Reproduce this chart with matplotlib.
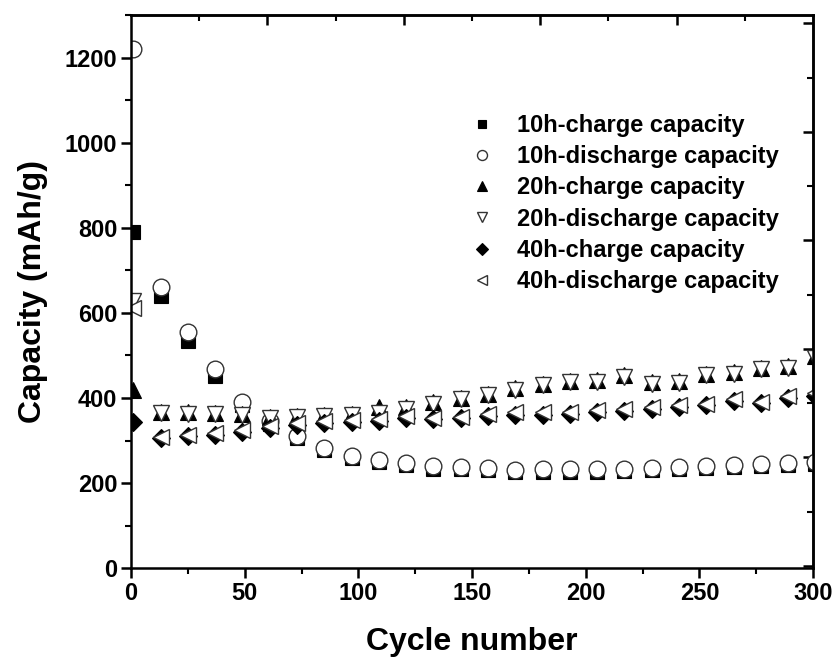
import numpy as np
import matplotlib.pyplot as plt
from matplotlib.ticker import MultipleLocator

plt.rcParams['font.family'] = ['Liberation Sans', 'DejaVu Sans']
plt.rcParams['font.weight'] = 'bold'

# cycle numbers where points are plotted (every 12 cycles)
ciclos = [1, 13, 25, 37, 49, 61, 73, 85, 97, 109, 121, 133, 145, 157, 169,
          181, 193, 205, 217, 229, 241, 253, 265, 277, 289, 301]

carga_10h = [790, 640, 535, 452, 383, 340, 306, 278, 258, 250, 242, 234, 232,
             231, 226, 226, 227, 227, 229, 230, 233, 235, 237, 239, 242, 245]
descarga_10h = [1221, 660, 555, 468, 390, 345, 310, 283, 263, 255, 247, 240, 237,
                236, 231, 232, 233, 233, 234, 235, 238, 240, 242, 244, 247, 250]
carga_20h = [418, 368, 366, 365, 362, 356, 358, 360, 363, 378, 380, 390, 400,
             410, 423, 433, 440, 443, 453, 438, 440, 456, 460, 471, 475, 498]
descarga_20h = [628, 365, 363, 362, 360, 352, 355, 357, 360, 365, 375, 385, 397,
                406, 418, 430, 437, 438, 449, 434, 436, 453, 456, 469, 471, 495]
carga_40h = [344, 306, 310, 314, 320, 330, 337, 341, 344, 347, 352, 350, 353,
             358, 360, 361, 362, 366, 370, 373, 378, 383, 392, 388, 400, 405]
descarga_40h = [612, 309, 313, 317, 324, 334, 341, 345, 348, 350, 357, 352, 356,
                362, 366, 366, 366, 371, 375, 378, 383, 387, 397, 391, 405, 412]

etiquetas = ["10h-charge capacity", "10h-discharge capacity",
             "20h-charge capacity", "20h-discharge capacity",
             "40h-charge capacity", "40h-discharge capacity"]

fig = plt.figure(figsize=(8.4, 6.66), dpi=100)
ax = fig.add_axes([0.156, 0.147, 0.812, 0.830])

ms = 12
ax.plot(ciclos, carga_10h, 's', ms=ms * 0.85, color='black', mec='black', mew=0.8,
        label=etiquetas[0])
ax.plot(ciclos, descarga_10h, 'o', ms=ms, mfc='white', mec='#333333', mew=1.0,
        label=etiquetas[1])
ax.plot(ciclos, carga_20h, '^', ms=ms, color='black', mec='black', mew=0.8,
        label=etiquetas[2])
ax.plot(ciclos, descarga_20h, 'v', ms=ms, mfc='white', mec='#333333', mew=1.0,
        label=etiquetas[3])
ax.plot(ciclos, carga_40h, 'D', ms=ms * 0.8, color='black', mec='black', mew=0.8,
        label=etiquetas[4])
ax.plot(ciclos, descarga_40h, '<', ms=ms, mfc='white', mec='#333333', mew=1.0,
        label=etiquetas[5])

ax.set_xlim(0, 300)
ax.xaxis.set_major_locator(MultipleLocator(50))
ax.xaxis.set_minor_locator(MultipleLocator(25))
ax.set_yticks(np.arange(0, 1201, 200))
ax.yaxis.set_minor_locator(MultipleLocator(100))
ax.set_ylim(0, 1300)

for s in ax.spines.values():
    s.set_linewidth(1.8)
ax.tick_params(which='major', direction='out', length=7, width=1.8,
               labelsize=17, pad=3)
ax.tick_params(which='minor', direction='out', length=4, width=1.5)
for lab in ax.get_xticklabels() + ax.get_yticklabels():
    lab.set_fontweight('bold')

# top and right axes with their own (mirrored layer) ticks, pointing in
arriba = ax.secondary_xaxis('top')
arriba.set_xticks([60, 120, 180, 240])
arriba.set_xticks([30, 90, 150, 210, 270], minor=True)
arriba.tick_params(which='major', direction='in', length=7, width=1.8,
                   labeltop=False)
arriba.tick_params(which='minor', direction='in', length=4, width=1.5)
arriba.spines['top'].set_linewidth(1.8)

derecha = ax.secondary_yaxis('right')
derecha.set_yticks([6, 261, 516, 771, 1026, 1281])
derecha.set_yticks([133, 388, 643, 898, 1153], minor=True)
derecha.tick_params(which='major', direction='in', length=7, width=1.8,
                    labelright=False)
derecha.tick_params(which='minor', direction='in', length=4, width=1.5)
derecha.spines['right'].set_linewidth(1.8)

ax.set_xlabel("Cycle number", fontsize=23, fontweight='bold', labelpad=16)
ax.set_ylabel("Capacity (mAh/g)", fontsize=23, fontweight='bold', labelpad=12)

leg = ax.legend(loc='upper left', bbox_to_anchor=(0.466, 0.86), frameon=False,
                fontsize=17, markerscale=0.6, handlelength=1.0,
                handletextpad=1.0, labelspacing=0.35)
for t in leg.get_texts():
    t.set_fontweight('bold')

fig.savefig("out.png", dpi=100)
